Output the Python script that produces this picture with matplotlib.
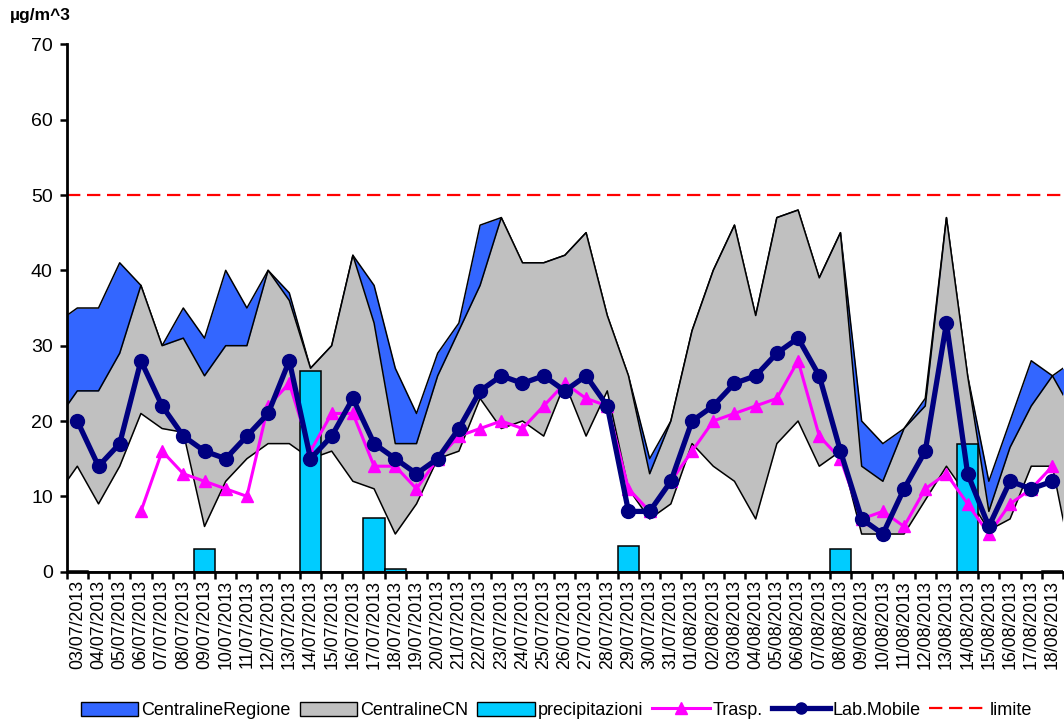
import matplotlib
matplotlib.use("Agg")
import matplotlib.pyplot as plt
from matplotlib.patches import Patch
from matplotlib.lines import Line2D
import numpy as np

plt.rcParams['font.family'] = ['Liberation Sans', 'DejaVu Sans']

giorni = ['03/07/2013', '04/07/2013', '05/07/2013', '06/07/2013', '07/07/2013', '08/07/2013',
          '09/07/2013', '10/07/2013', '11/07/2013', '12/07/2013', '13/07/2013', '14/07/2013',
          '15/07/2013', '16/07/2013', '17/07/2013', '18/07/2013', '19/07/2013', '20/07/2013',
          '21/07/2013', '22/07/2013', '23/07/2013', '24/07/2013', '25/07/2013', '26/07/2013',
          '27/07/2013', '28/07/2013', '29/07/2013', '30/07/2013', '31/07/2013', '01/08/2013',
          '02/08/2013', '03/08/2013', '04/08/2013', '05/08/2013', '06/08/2013', '07/08/2013',
          '08/08/2013', '09/08/2013', '10/08/2013', '11/08/2013', '12/08/2013', '13/08/2013',
          '14/08/2013', '15/08/2013', '16/08/2013', '17/08/2013', '18/08/2013']

# massimo centraline regione (area blu)
regione_max = [35, 35, 41, 38, 30, 35, 31, 40, 35, 40, 37, 27, 30, 42, 38, 27, 21, 29, 33, 46,
               47, 41, 41, 42, 45, 34, 26, 15, 20, 32, 40, 46, 34, 47, 48, 39, 45, 20, 17, 19,
               23, 47, 26, 12, 20, 28, 26]
# massimo e minimo centraline CN (area grigia)
cn_max = [24, 24, 29, 38, 30, 31, 26, 30, 30, 40, 36, 27, 30, 42, 33, 17, 17, 26, 32, 38,
          47, 41, 41, 42, 45, 34, 26, 13, 20, 32, 40, 46, 34, 47, 48, 39, 45, 14, 12, 19,
          22, 47, 26, 8, 16.5, 22, 26]
cn_min = [14, 9, 14, 21, 19, 18.5, 6, 12, 15, 17, 17, 15, 16, 12, 11, 5, 9, 15, 16, 23,
          19, 20, 18, 25, 18, 24, 11, 7, 9, 17, 14, 12, 7, 17, 20, 14, 16, 5, 5, 5,
          9.5, 14, 10, 5.5, 7, 14, 14]
# giorno prima (02/07) e giorno dopo (19/08), fuori dal grafico
regione_bordi = [33, 28]
cn_max_bordi = [20, 21]
cn_min_bordi = [10, 0]

precipitazioni = [0.15, 0, 0, 0, 0, 0, 3, 0, 0, 0, 0, 26.7, 0, 0, 7.1, 0.3, 0, 0, 0, 0,
                  0, 0, 0, 0, 0, 0, 3.4, 0, 0, 0, 0, 0, 0, 0, 0, 0, 3, 0, 0, 0,
                  0, 0, 17, 0, 0, 0, 0.15]
trasp = [None, None, None, 8, 16, 13, 12, 11, 10, 22, 25, 16, 21, 21, 14, 14, 11, 15, 18, 19,
         20, 19, 22, 25, 23, 22, 11, 8, 12, 16, 20, 21, 22, 23, 28, 18, 15, 7, 8, 6,
         11, 13, 9, 5, 9, 11, 14]
lab_mobile = [20, 14, 17, 28, 22, 18, 16, 15, 18, 21, 28, 15, 18, 23, 17, 15, 13, 15, 19, 24,
              26, 25, 26, 24, 26, 22, 8, 8, 12, 20, 22, 25, 26, 29, 31, 26, 16, 7, 5, 11,
              16, 33, 13, 6, 12, 11, 12]
limite = 50

x = np.arange(len(giorni))
xa = np.arange(-1, len(giorni) + 1)
reg_a = [regione_bordi[0]] + regione_max + [regione_bordi[1]]
max_a = [cn_max_bordi[0]] + cn_max + [cn_max_bordi[1]]
min_a = [cn_min_bordi[0]] + cn_min + [cn_min_bordi[1]]
trasp_v = np.array([np.nan if v is None else v for v in trasp], dtype=float)

fig = plt.figure(figsize=(10.64, 7.22), dpi=100)
ax = fig.add_axes([0.0627, 0.2082, 0.9364, 0.7304])

ax.fill_between(xa, -10, reg_a, color='#3366FF', lw=0, zorder=1.0)
ax.plot(xa, reg_a, color='black', lw=1.1, zorder=1.01)
ax.fill_between(xa, -10, max_a, color='#C0C0C0', lw=0, zorder=1.1)
ax.plot(xa, max_a, color='black', lw=1.1, zorder=1.11)
ax.fill_between(xa, -10, min_a, color='white', lw=0, zorder=1.2)
ax.plot(xa, min_a, color='black', lw=1.1, zorder=1.21)

ax.bar(x, precipitazioni, width=1.0, color='#00CCFF', edgecolor='black', lw=1.1, zorder=2)
ax.axhline(limite, color='#FF0000', lw=1.6, ls=(0, (6, 3)), zorder=3)
ax.plot(x, trasp_v, color='#FF00FF', lw=2.2, marker='^', ms=9, zorder=4)
ax.plot(x, lab_mobile, color='#000080', lw=3.8, marker='o', ms=10, zorder=5)

ax.set_xlim(-0.5, len(giorni) - 0.5)
ax.set_ylim(0, 70)
ax.set_yticks(range(0, 71, 10))
ax.set_xticks(np.arange(-0.5, len(giorni), 1))
ax.set_xticklabels([])
ax.set_xticks(x, minor=True)
ax.set_xticklabels(giorni, minor=True, rotation=90, fontsize=12.8)
ax.tick_params(axis='x', which='minor', length=0, pad=6)
ax.tick_params(axis='x', which='major', length=5, width=1.8, direction='out')
ax.tick_params(axis='y', length=5, width=1.8, direction='out', labelsize=14, pad=5)
for s in ['top', 'right']:
    ax.spines[s].set_visible(False)
for s in ['left', 'bottom']:
    ax.spines[s].set_linewidth(2)
    ax.spines[s].set_zorder(6)

fig.text(0.009, 0.978, 'µg/m^3', fontsize=12.5, fontweight='bold', va='center')

handles = [Patch(facecolor='#3366FF', edgecolor='black'),
           Patch(facecolor='#C0C0C0', edgecolor='black'),
           Patch(facecolor='#00CCFF', edgecolor='black'),
           Line2D([], [], color='#FF00FF', lw=2.2, marker='^', ms=9),
           Line2D([], [], color='#000080', lw=3.8, marker='o', ms=8),
           Line2D([], [], color='#FF00FF' if False else '#FF0000', lw=1.6, ls=(0, (6, 3)))]
nomi = ['CentralineRegione', 'CentralineCN', 'precipitazioni', 'Trasp.', 'Lab.Mobile', 'limite']
fig.legend(handles, nomi, loc='center', bbox_to_anchor=(0.523, 0.016), ncol=6, frameon=False,
           fontsize=13, handlelength=3.2, handleheight=0.8, handletextpad=0.15, columnspacing=0.5)

fig.savefig('out.png', dpi=100)
